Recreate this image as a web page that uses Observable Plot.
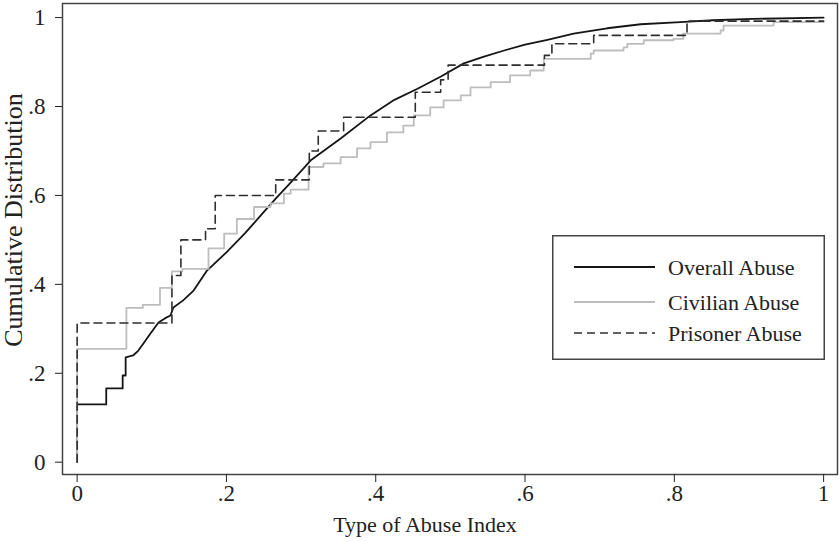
<!DOCTYPE html>
<html>
<head>
<meta charset="utf-8">
<script src="https://cdn.jsdelivr.net/npm/d3@7"></script>
<script src="https://cdn.jsdelivr.net/npm/@observablehq/plot@0.6"></script>
<style>
  html, body { margin: 0; padding: 0; background: #fff; }
  #wrap { position: relative; width: 840px; height: 542px; }
  #legend { position: absolute; left: 552px; top: 235px; }
</style>
</head>
<body>
<div id="wrap"><div id="chart"></div><div id="legend"></div></div>
<script>
// ---- Data ----
const seriesNames = ["Overall Abuse", "Civilian Abuse", "Prisoner Abuse"];
const seriesColors = ["#151515", "#bdbdbd", "#2e2e2e"];
const seriesDash = [null, null, "8,5"];

const xTicks = [0, 0.2, 0.4, 0.6, 0.8, 1];
const yTicks = [0, 0.2, 0.4, 0.6, 0.8, 1];

// Overall abuse (drawn as a polyline, vertical steps included)
const overallX = [0, 0, 0.039, 0.039, 0.061, 0.061, 0.065, 0.065, 0.075, 0.082, 0.090, 0.098, 0.109, 0.118, 0.125, 0.129, 0.142, 0.156, 0.174, 0.200, 0.225, 0.246, 0.266, 0.286, 0.313, 0.353, 0.393, 0.425, 0.456, 0.488, 0.518, 0.545, 0.572, 0.600, 0.630, 0.665, 0.710, 0.755, 0.808, 0.852, 0.905, 1.0];
const overallY = [0, 0.130, 0.130, 0.166, 0.166, 0.195, 0.195, 0.236, 0.240, 0.251, 0.270, 0.289, 0.314, 0.324, 0.330, 0.348, 0.364, 0.386, 0.431, 0.472, 0.515, 0.555, 0.593, 0.629, 0.679, 0.728, 0.780, 0.815, 0.840, 0.868, 0.897, 0.912, 0.926, 0.939, 0.950, 0.964, 0.976, 0.985, 0.990, 0.994, 0.997, 1.0];

// Civilian abuse (step function: x of jump, value after jump)
const civilianX = [0, 0, 0.066, 0.088, 0.111, 0.127, 0.141, 0.176, 0.197, 0.214, 0.237, 0.259, 0.277, 0.286, 0.310, 0.330, 0.353, 0.375, 0.393, 0.415, 0.437, 0.451, 0.473, 0.491, 0.514, 0.527, 0.554, 0.580, 0.607, 0.625, 0.688, 0.692, 0.732, 0.737, 0.759, 0.799, 0.812, 0.862, 0.866, 0.933, 1.0];
const civilianY = [0, 0.255, 0.347, 0.354, 0.392, 0.429, 0.435, 0.481, 0.514, 0.547, 0.574, 0.582, 0.604, 0.613, 0.664, 0.672, 0.686, 0.706, 0.720, 0.742, 0.757, 0.780, 0.798, 0.814, 0.825, 0.843, 0.855, 0.870, 0.881, 0.907, 0.919, 0.926, 0.933, 0.941, 0.949, 0.952, 0.964, 0.971, 0.982, 0.990, 0.990];

// Prisoner abuse (step function)
const prisonerX = [0, 0, 0.127, 0.139, 0.172, 0.185, 0.266, 0.311, 0.323, 0.357, 0.453, 0.487, 0.497, 0.626, 0.636, 0.692, 0.817, 1.0];
const prisonerY = [0, 0.313, 0.420, 0.500, 0.525, 0.600, 0.635, 0.700, 0.745, 0.776, 0.832, 0.860, 0.893, 0.915, 0.941, 0.960, 0.992, 0.992];

// ---- Build tables ----
const zip = (xs, ys) => xs.map((x, i) => ({x, y: ys[i]}));
const overall = zip(overallX, overallY);
const civilian = zip(civilianX, civilianY);
const prisoner = zip(prisonerX, prisonerY);

const fmt = d => d === 0 ? "0" : d === 1 ? "1" : String(+d.toFixed(1)).replace(/^0/, "");

const chart = Plot.plot({
  width: 840,
  height: 542,
  marginLeft: 62,
  marginRight: 3,
  marginTop: 3,
  marginBottom: 68,
  x: {domain: [-0.0196, 1.0186]},
  y: {domain: [-0.0277, 1.0317]},
  style: {fontFamily: "'Liberation Serif', 'Times New Roman', serif", fontSize: "22px", background: "#fff", color: "#222"},
  marks: [
    Plot.line(overall, {x: "x", y: "y", stroke: seriesColors[0], strokeWidth: 1.8}),
    Plot.line(civilian, {x: "x", y: "y", curve: "step-after", stroke: seriesColors[1], strokeWidth: 1.8}),
    Plot.line(prisoner, {x: "x", y: "y", curve: "step-after", stroke: seriesColors[2], strokeWidth: 1.6, strokeDasharray: seriesDash[2]}),
    Plot.frame({stroke: "#444", strokeWidth: 1.5}),
    Plot.axisX({ticks: xTicks, tickSize: 8, tickPadding: 2, tickFormat: fmt, label: null, fontSize: 23}),
    Plot.axisY({ticks: yTicks, tickSize: 7, tickPadding: 10, tickFormat: fmt, label: null, fontSize: 23}),
    Plot.text(["Type of Abuse Index"], {text: d => d, frameAnchor: "bottom", textAnchor: "middle", lineAnchor: "middle", dx: -25, dy: 50, fontSize: 22, fill: "#222"}),
    Plot.text(["Cumulative Distribution"], {text: d => d, frameAnchor: "left", textAnchor: "middle", lineAnchor: "middle", rotate: -90, dx: -49, dy: -19, fontSize: 26, fill: "#222"})
  ]
});
document.getElementById("chart").appendChild(chart);

// ---- Legend ----
const lw = 273, lh = 125;
const ls = d3.select("#legend").append("svg").attr("width", lw).attr("height", lh)
  .style("font-family", "'Liberation Serif', 'Times New Roman', serif");
ls.append("rect").attr("x", 0.75).attr("y", 0.75).attr("width", lw - 1.5).attr("height", lh - 1.5)
  .attr("fill", "#fff").attr("stroke", "#444").attr("stroke-width", 1.5);
const rowY = [32, 67, 98];
seriesNames.forEach((name, i) => {
  const g = ls.append("g").attr("transform", `translate(0,${rowY[i]})`);
  g.append("line").attr("x1", 22).attr("x2", 103).attr("y1", 0).attr("y2", 0)
    .attr("stroke", seriesColors[i]).attr("stroke-width", i === 2 ? 1.6 : 1.8)
    .attr("stroke-dasharray", seriesDash[i]);
  g.append("text").attr("x", 116).attr("y", 0).attr("dy", "0.35em")
    .attr("font-size", 22).attr("fill", "#222").text(name);
});
</script>
</body>
</html>
